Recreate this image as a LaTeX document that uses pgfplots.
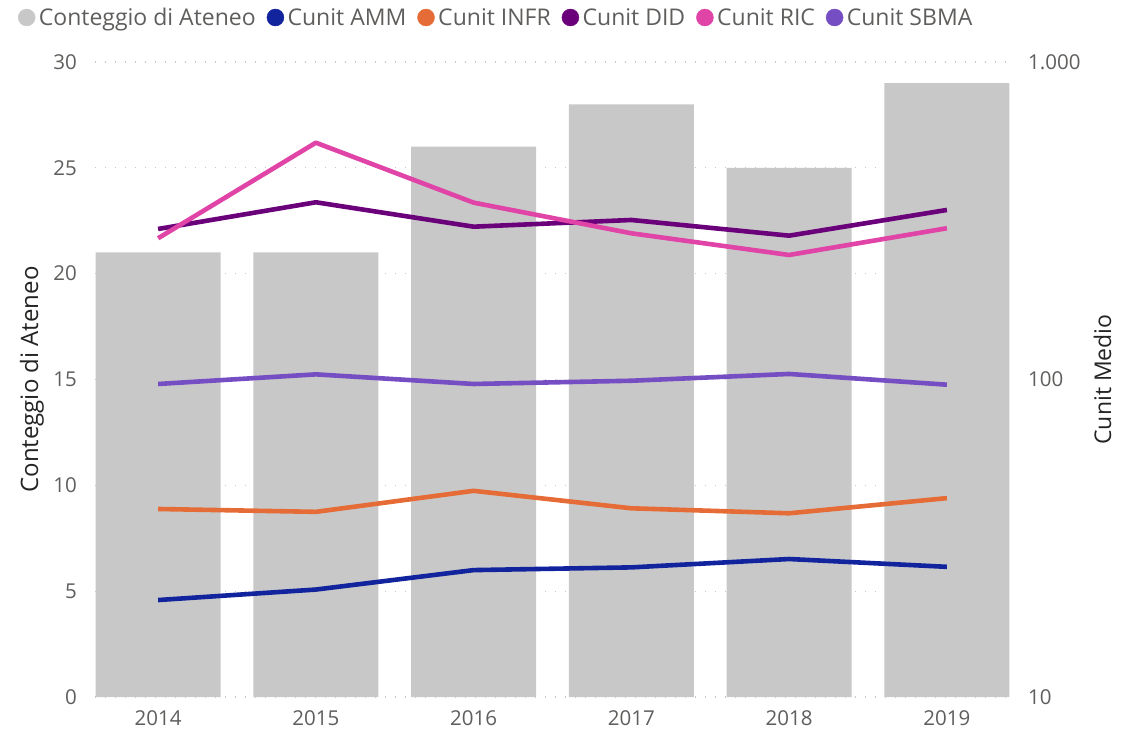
\documentclass[border=0pt]{standalone}
\usepackage{pgfplots}
\pgfplotsset{compat=1.18}
\usepackage{fontspec}
\setmainfont{Open Sans}
\definecolor{barg}{HTML}{C8C8C8}
\definecolor{gridg}{HTML}{C8C8C8}
\definecolor{tickc}{HTML}{605E5C}
\definecolor{titc}{HTML}{252423}
\definecolor{camm}{HTML}{12239E}
\definecolor{cinfr}{HTML}{E66C37}
\definecolor{cdid}{HTML}{6B007B}
\definecolor{cric}{HTML}{E044A7}
\definecolor{csbma}{HTML}{744EC2}
\pgfplotsset{
 common/.style={
  at={(95pt,34pt)}, anchor=south west,
  scale only axis, width=915pt, height=635pt,
  xmin=-0.4, xmax=5.4,
  axis line style={draw=none},
  major tick length=0pt, minor tick length=0pt,
  tick style={draw=none},
  /pgf/number format/assume math mode=true,
  tick label style={font=\fontsize{20.5}{24}\selectfont, text=tickc, inner sep=0pt},
 },
}
\begin{document}
\begin{tikzpicture}
\useasboundingbox (0,0) rectangle (1139pt,731pt);
\begin{axis}[common,
 axis x line*=bottom, axis y line*=left,
 ymin=0, ymax=30, ytick={0,5,...,30},
 xtick={0,...,5}, xticklabels={2014,2015,2016,2017,2018,2019},
 xticklabel style={anchor=base, yshift=-28pt},
 yticklabel style={anchor=east, xshift=-18pt},
 ymajorgrids, grid style={gridg, line width=1.3pt, dash pattern=on 1.3pt off 8.7pt},
 every axis y label/.style={at={([xshift=-63pt]axis description cs:0,0.5)}, rotate=90, anchor=center, font=\fontsize{24}{28}\selectfont, text=titc},
 ylabel={Conteggio di Ateneo},
 legend columns=-1,
 legend cell align=left,
 legend style={draw=none, fill=none, inner sep=0pt, outer sep=0pt,
   at={([xshift=-77pt,yshift=44.5pt]axis description cs:0,1)}, anchor=west,
   font=\fontsize{23}{27}\selectfont, text=tickc, nodes={inner sep=0pt},
   /tikz/every even column/.append style={column sep=11pt}},
]
\addplot[ybar, bar width=125pt, fill=barg, draw=none, forget plot] coordinates {(0,21) (1,21) (2,26) (3,28) (4,25) (5,29)};
\addlegendimage{legend image code/.code={\fill[barg] (8.5pt,0pt) circle (8.5pt); \path (20.5pt,0pt);}}
\addlegendimage{legend image code/.code={\fill[camm] (8.5pt,0pt) circle (8.5pt); \path (20.5pt,0pt);}}
\addlegendimage{legend image code/.code={\fill[cinfr] (8.5pt,0pt) circle (8.5pt); \path (20.5pt,0pt);}}
\addlegendimage{legend image code/.code={\fill[cdid] (8.5pt,0pt) circle (8.5pt); \path (20.5pt,0pt);}}
\addlegendimage{legend image code/.code={\fill[cric] (8.5pt,0pt) circle (8.5pt); \path (20.5pt,0pt);}}
\addlegendimage{legend image code/.code={\fill[csbma] (8.5pt,0pt) circle (8.5pt); \path (20.5pt,0pt);}}
\legend{Conteggio di Ateneo, Cunit AMM, Cunit INFR, Cunit DID, Cunit RIC, Cunit SBMA}
\end{axis}
\begin{axis}[common,
 axis x line=none, axis y line*=right, xtick=\empty,
 ymode=log, ymin=10, ymax=1000,
 ytick={10,100,1000}, yticklabels={10,100,1.000},
 yticklabel style={anchor=west, xshift=18pt},
 every axis y label/.style={at={([xshift=92.5pt]axis description cs:1,0.5)}, rotate=90, anchor=center, font=\fontsize{23}{27}\selectfont, text=titc},
 ylabel={Cunit Medio},
]
\addplot[camm, line width=4.6pt, line join=round] coordinates {(0,20.2) (1,21.8) (2,25.1) (3,25.6) (4,27.2) (5,25.7)};
\addplot[cinfr, line width=4.6pt, line join=round] coordinates {(0,39.1) (1,38.3) (2,44.6) (3,39.3) (4,37.9) (5,42.3)};
\addplot[csbma, line width=4.6pt, line join=round] coordinates {(0,96.8) (1,103.8) (2,96.8) (3,99.1) (4,104.1) (5,96.3)};
\addplot[cdid, line width=4.6pt, line join=round] coordinates {(0,297.9) (1,361.6) (2,302.9) (3,318.0) (4,283.8) (5,342.0)};
\addplot[cric, line width=4.6pt, line join=round] coordinates {(0,278.5) (1,557) (2,360.6) (3,288.7) (4,246.7) (5,299.5)};
\end{axis}
\end{tikzpicture}
\end{document}
